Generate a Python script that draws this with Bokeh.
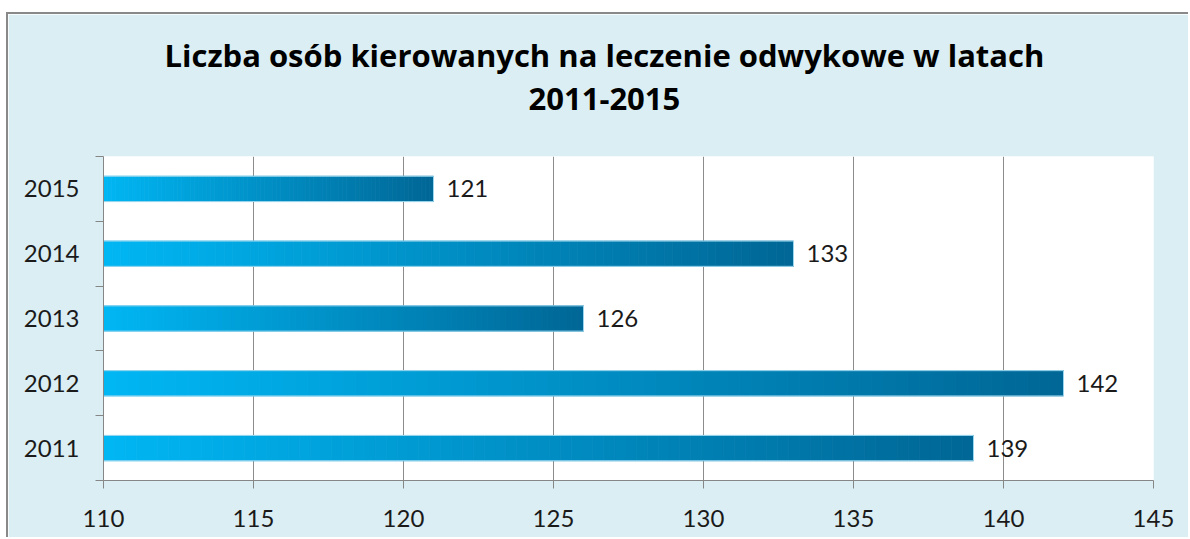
import numpy as np
from bokeh.plotting import figure
from bokeh.models import FixedTicker, Range1d, Title
from bokeh.embed import file_html
from bokeh.resources import INLINE
from bokeh.core.properties import value

# ---- data ----
years = ["2011", "2012", "2013", "2014", "2015"]
counts = [139, 142, 126, 133, 121]
x_ticks = [110, 115, 120, 125, 130, 135, 140, 145]
title_lines = ["Liczba osób kierowanych na leczenie odwykowe w latach", "2011-2015"]

BASE = 110
FONT = "Lato"
pos = [i + 1 for i in range(len(years))]

p = figure(width=1182, height=525, output_backend="svg", toolbar_location=None,
           x_range=Range1d(x_ticks[0], x_ticks[-1]), y_range=Range1d(0.5, len(years) + 0.5),
           min_border_left=95, min_border_right=37, min_border_top=142, min_border_bottom=59,
           margin=(12, 0, 0, 6),
           styles={"border-left": "2px solid #898989", "border-top": "2px solid #898989"})

p.background_fill_color = "white"
p.border_fill_color = "#DAEEF3"
p.outline_line_color = None

# gradient bars (each bar: light -> dark along its length)
c0 = np.array([0x00, 0xB6, 0xF3], dtype=float)
c1 = np.array([0x00, 0x67, 0x96], dtype=float)
N = 80
lefts, rights, ys, cols = [], [], [], []
for y, v in zip(pos, counts):
    for k in range(N):
        lefts.append(BASE + (v - BASE) * k / N)
        rights.append(BASE + (v - BASE) * (k + 1) / N)
        ys.append(y)
        c = c0 + (c1 - c0) * (k / (N - 1))
        cols.append("#%02x%02x%02x" % tuple(int(round(q)) for q in c))
p.hbar(y=ys, left=lefts, right=rights, height=0.39, fill_color=cols,
       line_color=cols, line_width=0.8)
p.hbar(y=pos, left=BASE, right=counts, height=0.39, fill_color=None,
       line_color="#9ad6ee", line_width=1)

p.text(x=counts, y=pos, text=[str(c) for c in counts], x_offset=13,
       text_baseline="middle", text_align="left", text_font=value(FONT),
       text_font_size="24px", text_color="#1a1a1a")

# x axis
p.xaxis.ticker = FixedTicker(ticks=x_ticks)
p.xgrid.ticker = FixedTicker(ticks=x_ticks)
p.xgrid.grid_line_color = "#8c8c8c"
p.ygrid.grid_line_color = None
p.xaxis.axis_line_color = "#868686"
p.xaxis.major_tick_line_color = "#868686"
p.xaxis.major_tick_out = 8
p.xaxis.major_tick_in = 0
p.xaxis.minor_tick_line_color = None
p.xaxis.major_label_text_font = FONT
p.xaxis.major_label_text_font_size = "24px"
p.xaxis.major_label_text_color = "#1a1a1a"
p.xaxis.major_label_standoff = 21

# y axis: labels at centres, ticks at boundaries
minor = [q - 0.5 for q in pos] + [pos[-1] + 0.5]
p.yaxis.ticker = FixedTicker(ticks=pos, minor_ticks=minor)
p.yaxis.major_label_overrides = {q: y for q, y in zip(pos, years)}
p.yaxis.major_tick_line_color = None
p.yaxis.major_tick_out = 0
p.yaxis.major_tick_in = 0
p.yaxis.minor_tick_line_color = "#868686"
p.yaxis.minor_tick_out = 8
p.yaxis.minor_tick_in = 0
p.yaxis.axis_line_color = "#868686"
p.yaxis.major_label_text_font = FONT
p.yaxis.major_label_text_font_size = "24px"
p.yaxis.major_label_text_color = "#1a1a1a"
p.yaxis.major_label_standoff = 16

# title: two lines; above-panel items stack outward from the frame
def style_title(t, offset, standoff):
    t.align = "left"
    t.offset = offset
    t.standoff = standoff
    t.text_font = "Open Sans"
    t.text_font_size = "31px"
    t.text_font_style = "bold"
    t.text_color = "#000000"

spacer = Title(text=" ")
style_title(spacer, 0, 3)
p.add_layout(spacer, "above")
t2 = Title(text=title_lines[1])
style_title(t2, 425, 0)
p.add_layout(t2, "above")
p.title.text = title_lines[0]
style_title(p.title, 61, 20)

open("out.html", "w").write(file_html(p, INLINE))
